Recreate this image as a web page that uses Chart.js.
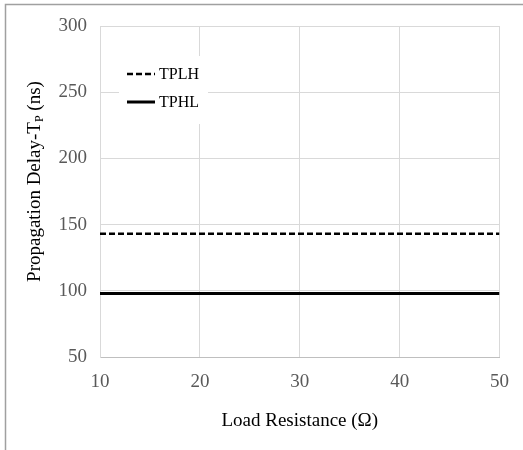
<!DOCTYPE html>
<html><head><meta charset="utf-8">
<script src="https://cdn.jsdelivr.net/npm/chart.js@4/dist/chart.umd.min.js"></script>
<style>html,body{margin:0;padding:0;background:#fff}#wrap{width:523px;height:450px;position:relative}</style>
</head><body><div id="wrap"><canvas id="c" width="523" height="450"></canvas></div>
<script>
const loadResistance = [10, 20, 30, 40, 50];
const tplh = [143, 143, 143, 143, 143];
const tphl = [98, 98, 98, 98, 98];
const seriesNames = ['TPLH', 'TPHL'];
const xTickValues = [10, 20, 30, 40, 50];
const yTickValues = [50, 100, 150, 200, 250, 300];
const xTitle = 'Load Resistance (Ω)';
const yTitleMain = 'Propagation Delay-T';
const yTitleSub = 'P';
const yTitleEnd = ' (ns)';

const FONT = "'Liberation Serif', 'Times New Roman', serif";

const framePlugin = {
  id: 'frame',
  beforeDraw(chart) {
    const ctx = chart.ctx;
    ctx.save();
    ctx.fillStyle = '#fff';
    ctx.fillRect(0, 0, chart.width, chart.height);
    ctx.strokeStyle = '#a0a0a0';
    ctx.lineWidth = 1.5;
    ctx.beginPath();
    ctx.moveTo(5.5, 450);
    ctx.lineTo(5.5, 4.5);
    ctx.lineTo(523, 4.5);
    ctx.stroke();
    ctx.restore();
  }
};

const yTitlePlugin = {
  id: 'yTitle',
  afterDraw(chart) {
    const ctx = chart.ctx;
    const area = chart.chartArea;
    const cy = (area.top + area.bottom) / 2 - 10;
    ctx.save();
    ctx.translate(35, cy);
    ctx.rotate(-Math.PI / 2);
    const mainFont = '19px ' + FONT;
    const subFont = '12px ' + FONT;
    ctx.font = mainFont;
    const w1 = ctx.measureText(yTitleMain).width;
    const w3 = ctx.measureText(yTitleEnd).width;
    ctx.font = subFont;
    const w2 = ctx.measureText(yTitleSub).width;
    let x = -(w1 + w2 + w3) / 2;
    ctx.fillStyle = '#000';
    ctx.textBaseline = 'middle';
    ctx.textAlign = 'left';
    ctx.font = mainFont;
    ctx.fillText(yTitleMain, x, 0);
    x += w1;
    ctx.font = subFont;
    ctx.fillText(yTitleSub, x, 5);
    x += w2;
    ctx.font = mainFont;
    ctx.fillText(yTitleEnd, x, 0);
    ctx.restore();
  }
};

const legendPlugin = {
  id: 'inLegend',
  beforeDatasetsDraw(chart) {
    const ctx = chart.ctx;
    const a = chart.chartArea;
    ctx.save();
    ctx.fillStyle = '#fff';
    ctx.fillRect(a.left + 19, a.top + 30, 89, 68);
    const rows = [a.top + 48, a.top + 76];
    chart.data.datasets.forEach((ds, i) => {
      const y = rows[i];
      ctx.strokeStyle = ds.borderColor;
      ctx.lineWidth = ds.borderWidth;
      ctx.setLineDash(ds.borderDash || []);
      ctx.beginPath();
      ctx.moveTo(a.left + 27, y);
      ctx.lineTo(a.left + 55, y);
      ctx.stroke();
      ctx.setLineDash([]);
      ctx.fillStyle = '#000';
      ctx.font = '16px ' + FONT;
      ctx.textBaseline = 'middle';
      ctx.textAlign = 'left';
      ctx.fillText(ds.label, a.left + 59, y + 1);
    });
    ctx.restore();
  }
};

const toPoints = (xs, ys) => xs.map((x, i) => ({ x: x, y: ys[i] }));

new Chart(document.getElementById('c'), {
  type: 'line',
  data: {
    datasets: [
      { label: seriesNames[0], data: toPoints(loadResistance, tplh), borderColor: '#000', borderWidth: 2.5, borderDash: [6, 3], pointRadius: 0, fill: false },
      { label: seriesNames[1], data: toPoints(loadResistance, tphl), borderColor: '#000', borderWidth: 3, pointRadius: 0, fill: false }
    ]
  },
  options: {
    responsive: false,
    animation: false,
    layout: { padding: { left: 5, right: 23, top: 26, bottom: 0 } },
    plugins: { legend: { display: false }, tooltip: { enabled: false } },
    scales: {
      x: {
        type: 'linear', min: xTickValues[0], max: xTickValues[xTickValues.length - 1],
        afterBuildTicks(s) { s.ticks = xTickValues.map(v => ({ value: v })); },
        afterFit(s) { s.height = 93; },
        ticks: { font: { family: FONT, size: 19 }, color: '#595959', padding: 14 },
        grid: { color: '#d9d9d9', lineWidth: 1, drawTicks: false },
        border: { color: '#bfbfbf' },
        title: { display: true, text: xTitle, color: '#000', font: { family: FONT, size: 19 }, padding: { top: 0, bottom: 18 } }
      },
      y: {
        min: yTickValues[0], max: yTickValues[yTickValues.length - 1],
        afterBuildTicks(s) { s.ticks = yTickValues.map(v => ({ value: v })); },
        afterFit(s) { s.width = 95; },
        ticks: { font: { family: FONT, size: 19 }, color: '#595959', padding: 13 },
        grid: { color: '#d9d9d9', lineWidth: 1, drawTicks: false },
        border: { color: '#d9d9d9' }
      }
    }
  },
  plugins: [framePlugin, legendPlugin, yTitlePlugin]
});
</script>
</body></html>
